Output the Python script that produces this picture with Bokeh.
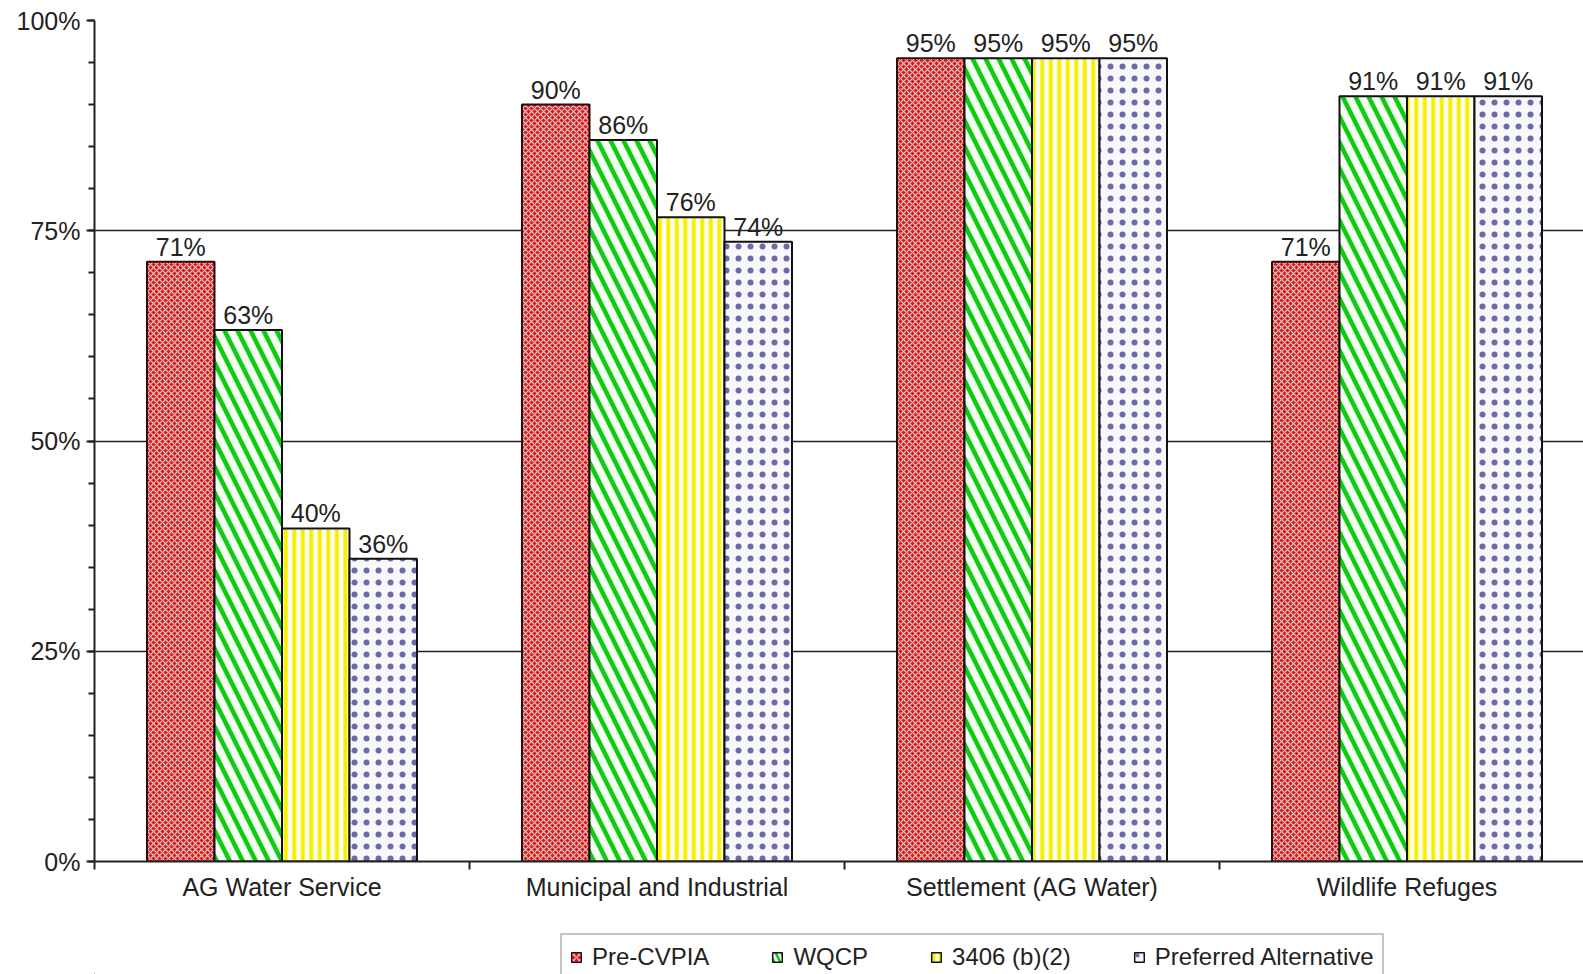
from bokeh.plotting import figure
from bokeh.layouts import column
from bokeh.models import (ColumnDataSource, Range1d, FixedTicker, PrintfTickFormatter,
                          Legend, LegendItem)
from bokeh.transform import dodge
from bokeh.core.properties import value
from bokeh.embed import file_html
from bokeh.resources import INLINE

# ---------------- data ----------------
categories = ["AG Water Service", "Municipal and Industrial",
              "Settlement (AG Water)", "Wildlife Refuges"]
series = ["Pre-CVPIA", "WQCP", "3406 (b)(2)", "Preferred Alternative"]

pre_cvpia = [71.3, 90.0, 95.5, 71.3]
wqcp = [63.2, 85.8, 95.5, 91.0]
b2_3406 = [39.6, 76.6, 95.5, 91.0]
preferred = [36.0, 73.7, 95.5, 91.0]

labels_pre_cvpia = [71, 90, 95, 71]
labels_wqcp = [63, 86, 95, 91]
labels_3406 = [40, 76, 95, 91]
labels_preferred = [36, 74, 95, 91]

y_ticks = [0, 25, 50, 75, 100]

values = [pre_cvpia, wqcp, b2_3406, preferred]
labels = [labels_pre_cvpia, labels_wqcp, labels_3406, labels_preferred]

# ---------------- styles ----------------
styles = [
    dict(fill_color="#d81c1c", hatch_color="#ffc4c4", hatch_pattern="diagonal_cross",
         hatch_scale=6, hatch_weight=1.2, line_color="#2a0a0a"),
    dict(fill_color="#f4fff4", hatch_color="#10cc10", hatch_pattern="left_diagonal_line",
         hatch_scale=26, hatch_weight=4.5, line_color="#111111"),
    dict(fill_color="#fffff6", hatch_color="#f6f000", hatch_pattern="vertical_line",
         hatch_scale=8.5, hatch_weight=4, line_color="#111111"),
    dict(fill_color="#f8f8fc", hatch_color="#6a6aaa", hatch_pattern="dot",
         hatch_scale=12, hatch_weight=0.5, line_color="#111111"),
]
legend_hatch = [(6, 1.2), (12, 2.5), (6, 3), (8, 0.5)]
offsets = [-0.27, -0.09, 0.09, 0.27]
bar_width = 0.18
FONT = "Liberation Sans"

centers = [i + 0.5 for i in range(len(categories))]

p = figure(width=1583, height=925,
           x_range=Range1d(0, 3.9707), y_range=Range1d(0, 100),
           output_backend="svg", toolbar_location=None,
           min_border_left=94, min_border_right=0,
           min_border_top=20, min_border_bottom=64)
p.outline_line_color = None
p.background_fill_color = "white"
p.border_fill_color = "white"

# grid
p.xgrid.visible = False
p.ygrid.ticker = FixedTicker(ticks=[25, 50, 75, 100])
p.ygrid.grid_line_color = "#222222"
p.ygrid.grid_line_width = 1.6

# y axis
ya = p.yaxis[0]
ya.ticker = FixedTicker(ticks=y_ticks, minor_ticks=list(range(0, 101, 5)))
ya.formatter = PrintfTickFormatter(format="%d%%")
ya.major_tick_out = 8
ya.major_tick_in = 0
ya.minor_tick_out = 6
ya.minor_tick_in = 0
ya.axis_line_width = 2
ya.axis_line_color = "#222222"
ya.major_tick_line_color = "#222222"
ya.major_tick_line_width = 2
ya.minor_tick_line_color = "#222222"
ya.minor_tick_line_width = 2
ya.major_label_text_font = FONT
ya.major_label_text_font_size = "25px"
ya.major_label_text_color = "#222222"
ya.major_label_standoff = 6

# x axis
xa = p.xaxis[0]
xa.ticker = FixedTicker(ticks=centers, minor_ticks=list(range(len(categories) + 1)))
xa.major_label_overrides = {c: name for c, name in zip(centers, categories)}
xa.major_tick_out = 0
xa.major_tick_in = 0
xa.minor_tick_out = 8
xa.minor_tick_in = 0
xa.minor_tick_line_color = "#222222"
xa.minor_tick_line_width = 2
xa.axis_line_width = 2
xa.axis_line_color = "#222222"
xa.major_label_text_font = FONT
xa.major_label_text_font_size = "25px"
xa.major_label_text_color = "#222222"
xa.major_label_standoff = 3

# bars + labels
renderers = []
for i, name in enumerate(series):
    src = ColumnDataSource(dict(
        x=centers,
        top=values[i],
        label=[f"{v}%" for v in labels[i]],
    ))
    st = styles[i]
    r = p.vbar(x=dodge("x", offsets[i]), top="top", bottom=0, width=bar_width, source=src,
               fill_color=st["fill_color"], hatch_color=st["hatch_color"],
               hatch_pattern=st["hatch_pattern"], hatch_scale=st["hatch_scale"],
               hatch_weight=st["hatch_weight"], line_color=st["line_color"], line_width=2)
    renderers.append(r)
    p.text(x=dodge("x", offsets[i]), y="top", text="label", source=src,
           text_align="center", text_baseline="alphabetic", y_offset=-15,
           text_font=value(FONT), text_font_size="25px", text_color="#222222")

# ---------------- legend strip below the chart ----------------
lf = figure(width=1583, height=49, x_range=Range1d(0, 1), y_range=Range1d(0, 1),
            output_backend="svg", toolbar_location=None,
            x_axis_type=None, y_axis_type=None,
            min_border_left=0, min_border_right=0, min_border_top=0, min_border_bottom=0)
lf.outline_line_color = None
lf.background_fill_color = "white"
lf.border_fill_color = "white"

legend_items = []
for i, name in enumerate(series):
    st = styles[i]
    hs, hw = legend_hatch[i]
    rr = lf.vbar(x=[-10], top=[-10], bottom=[-11], width=0.1,
                 fill_color=st["fill_color"], hatch_color=st["hatch_color"],
                 hatch_pattern=st["hatch_pattern"], hatch_scale=hs,
                 hatch_weight=hw, line_color=st["line_color"], line_width=1.5)
    legend_items.append(LegendItem(label=name, renderers=[rr]))

legend = Legend(
    items=legend_items,
    orientation="horizontal", location=(466, -7),
    glyph_width=12, glyph_height=12, label_standoff=10, spacing=62,
    padding=8, margin=0, label_height=24,
    label_text_font=FONT, label_text_font_size="24px", label_text_color="#222222",
    border_line_color="#8a8a8a", border_line_width=2,
    background_fill_color="white", background_fill_alpha=1.0,
)
lf.add_layout(legend)

layout = column(p, lf, spacing=0)
open("out.html", "w").write(file_html(layout, INLINE))
